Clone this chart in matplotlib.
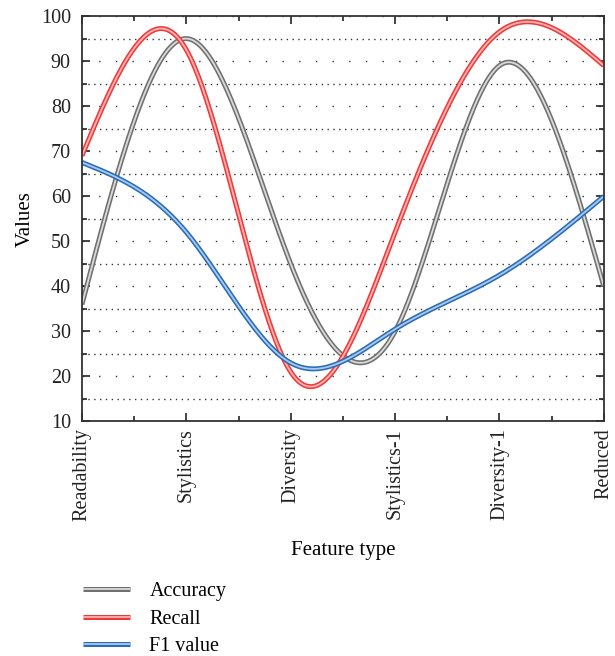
import numpy as np
import matplotlib

matplotlib.use("Agg")
import matplotlib.pyplot as plt
import matplotlib.patheffects as pe
from matplotlib.ticker import MultipleLocator

plt.rcParams["font.family"] = ["Liberation Serif", "DejaVu Serif"]

categories = ["Readability", "Stylistics", "Diversity", "Stylistics-1", "Diversity-1", "Reduced"]
accuracy = [36, 95, 45, 30, 89, 40]
recall = [69, 92.5, 21, 52, 96.5, 89]
f1_value = [67.5, 52, 23, 30.5, 42.5, 60]

series = [
    ("Accuracy", accuracy, "#dadada", "#707070"),
    ("Recall", recall, "#ffb4b4", "#f03a3a"),
    ("F1 value", f1_value, "#a9cbef", "#2b6cb8"),
]


def natural_spline(x, y, xs):
    # natural cubic spline, second derivatives are zero at both ends
    x = np.asarray(x, float)
    y = np.asarray(y, float)
    n = len(x)
    h = np.diff(x)
    A = np.zeros((n, n))
    b = np.zeros(n)
    A[0, 0] = A[-1, -1] = 1
    for i in range(1, n - 1):
        A[i, i - 1] = h[i - 1]
        A[i, i] = 2 * (h[i - 1] + h[i])
        A[i, i + 1] = h[i]
        b[i] = 6 * ((y[i + 1] - y[i]) / h[i] - (y[i] - y[i - 1]) / h[i - 1])
    m = np.linalg.solve(A, b)
    idx = np.clip(np.searchsorted(x, xs) - 1, 0, n - 2)
    x0, x1 = x[idx], x[idx + 1]
    hh = x1 - x0
    t0, t1 = x1 - xs, xs - x0
    return (m[idx] * t0 ** 3 / (6 * hh) + m[idx + 1] * t1 ** 3 / (6 * hh)
            + (y[idx] / hh - m[idx] * hh / 6) * t0
            + (y[idx + 1] / hh - m[idx + 1] * hh / 6) * t1)


fig = plt.figure(figsize=(6.15, 6.56), dpi=100)
ax = fig.add_axes([0.1333, 0.3575, 0.8485, 0.618])

xpos = np.arange(len(categories))
xs = np.linspace(0, len(categories) - 1, 600)
for name, vals, inner, outer in series:
    ax.plot(xs, natural_spline(xpos, vals, xs), color=inner, lw=1.3, label=name,
            solid_capstyle="butt",
            path_effects=[pe.Stroke(linewidth=3.6, foreground=outer), pe.Normal()])

ax.set_xlim(0, len(categories) - 1)
ax.set_ylim(10, 100)
ax.set_xticks(xpos)
ax.set_xticklabels(categories, rotation=90, fontsize=15)
ax.xaxis.set_minor_locator(MultipleLocator(0.5))
ax.yaxis.set_major_locator(MultipleLocator(10))
ax.yaxis.set_minor_locator(MultipleLocator(5))
ax.tick_params(axis="both", which="both", direction="in", top=True, right=True,
               labelsize=14.5, colors="#222222", width=1.2)
ax.tick_params(which="major", length=6)
ax.tick_params(which="minor", length=3.5)
ax.tick_params(axis="x", pad=5)
ax.tick_params(axis="y", pad=8)
for s in ax.spines.values():
    s.set_linewidth(1.3)
    s.set_color("#333333")

ax.grid(which="major", axis="y", linestyle=(0, (1, 11)), color="#333333", lw=1)
ax.grid(which="minor", axis="y", linestyle=(0, (1, 3.2)), color="#333333", lw=1)

ax.set_ylabel("Values", fontsize=15, labelpad=4)
ax.set_xlabel("Feature type", fontsize=15, labelpad=14)

fig.legend(loc="upper left", bbox_to_anchor=(0.135, 0.1125), frameon=False, fontsize=14.5,
           borderpad=0, borderaxespad=0,
           handlelength=2.35, handletextpad=0.95, labelspacing=0.42)

fig.savefig("out.png", dpi=100)
